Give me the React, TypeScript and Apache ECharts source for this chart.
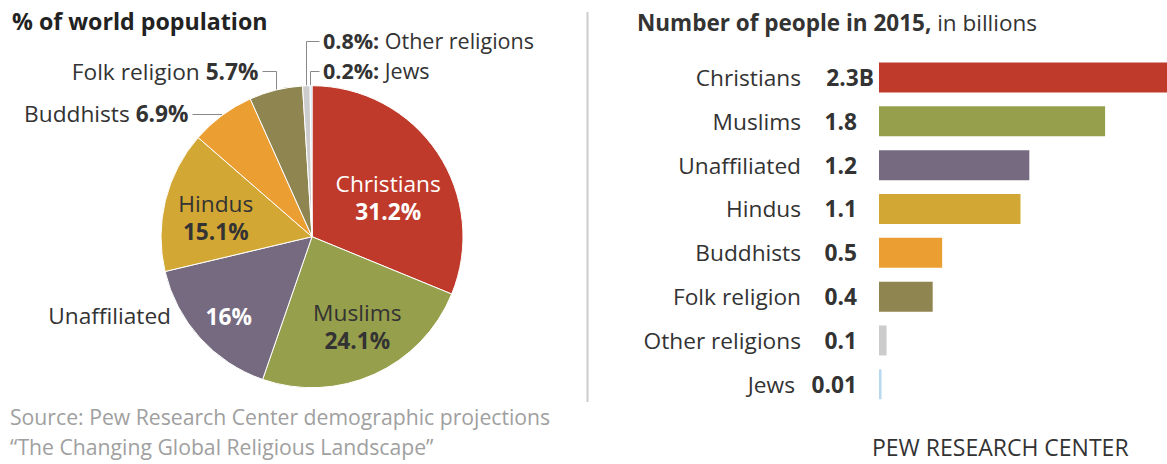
import React, { useEffect, useRef } from "react";
import * as echarts from "echarts";

// ---- data ----
const RELIGIONS = ["Christians", "Muslims", "Unaffiliated", "Hindus", "Buddhists", "Folk religion", "Other religions", "Jews"];
const SHARE = [31.2, 24.1, 16, 15.1, 6.9, 5.7, 0.8, 0.2];
const SHARE_LABELS = ["31.2%", "24.1%", "16%", "15.1%", "6.9%", "5.7%", "0.8%", "0.2%"];
const PEOPLE = [2.28, 1.79, 1.19, 1.12, 0.5, 0.425, 0.06, 0.02];
const PEOPLE_LABELS = ["2.3B", "1.8", "1.2", "1.1", "0.5", "0.4", "0.1", "0.01"];
const LEFT_TITLE = "% of world population";
const RIGHT_TITLE_BOLD = "Number of people in 2015,";
const RIGHT_TITLE_REG = " in billions";
const SOURCE_LINES = ["Source: Pew Research Center demographic projections", "\u201cThe Changing Global Religious Landscape\u201d"];
const CREDIT = "PEW RESEARCH CENTER";

// ---- styles ----
const COLORS = ["#bf3a2b", "#969f4b", "#756a7f", "#d3a733", "#eb9f32", "#8e8551", "#cccccc", "#b8d8f0"];
const FONT = "'Open Sans', sans-serif";
const FS = 22.7;
const FS_SMALL = 21.5;
const TXT = "#333333";
const LINE = "#888888";
const INSIDE_WHITE = [true, false, true, false];
const LABEL_SHIFT: number[][] = [[11, 5], [13, 18], [-25, 27], [-20, 0]];

function buildOption() {
  const pieData = SHARE.map((v, i) => ({
    value: v,
    name: RELIGIONS[i],
    itemStyle: { color: COLORS[i] },
    label: { show: i < 4 },
  }));

  const barData = PEOPLE.map((v, i) => ({ value: v, itemStyle: { color: COLORS[i] } }));

  const pieRich = {
    n: { fontFamily: FONT, fontSize: FS, color: TXT, lineHeight: 28 },
    p: { fontFamily: FONT, fontSize: FS, fontWeight: "bold", color: TXT, lineHeight: 28 },
    nw: { fontFamily: FONT, fontSize: FS, color: "#ffffff", lineHeight: 28 },
    pw: { fontFamily: FONT, fontSize: FS, fontWeight: "bold", color: "#ffffff", lineHeight: 28 },
  };

  const gRich = {
    n: { fontFamily: FONT, fontSize: FS, color: TXT, lineHeight: 24 },
    p: { fontFamily: FONT, fontSize: FS, fontWeight: "bold", color: TXT, lineHeight: 24 },
  };
  const gRichSmall = {
    n: { fontFamily: FONT, fontSize: FS_SMALL, color: TXT, lineHeight: 24 },
    p: { fontFamily: FONT, fontSize: FS_SMALL, fontWeight: "bold", color: TXT, lineHeight: 24 },
  };

  const axisRich = {
    n: { fontFamily: FONT, fontSize: FS, color: TXT },
    v: { fontFamily: FONT, fontSize: FS, fontWeight: "bold", color: TXT, width: 56, padding: [0, 17, 0, 0] },
    c: { fontFamily: FONT, fontSize: FS, fontWeight: "bold", color: TXT, width: 73 },
    j: { fontFamily: FONT, fontSize: FS, fontWeight: "bold", color: TXT, width: 62, padding: [0, 17, 0, 0] },
  };

  const textEl = (x: number, y: number, text: string, align: string, extra: any = {}) => ({
    type: "text",
    x,
    y,
    style: {
      text,
      textAlign: align,
      align,
      textVerticalAlign: "middle",
      verticalAlign: "middle",
      fontFamily: FONT,
      fontSize: FS,
      fill: TXT,
      rich: gRich,
      ...extra,
    },
  });

  const lineEl = (pts: number[][]) => ({
    type: "polyline",
    shape: { points: pts },
    style: { stroke: LINE, lineWidth: 1, fill: null },
  });

  return {
    animation: false,
    backgroundColor: "#ffffff",
    textStyle: { fontFamily: FONT },
    grid: { left: 879, right: 0, top: 55.6, height: 350.6 },
    xAxis: { type: "value", min: 0, max: PEOPLE[0], show: false },
    yAxis: {
      type: "category",
      inverse: true,
      data: RELIGIONS,
      axisLine: { show: false },
      axisTick: { show: false },
      splitLine: { show: false },
      axisLabel: {
        margin: 5,
        rich: axisRich,
        formatter: (value: string, index: number) => {
          const st = index === 0 ? "c" : index === RELIGIONS.length - 1 ? "j" : "v";
          return `{n|${value}}{${st}|${PEOPLE_LABELS[index]}}`;
        },
      },
    },
    series: [
      {
        type: "pie",
        center: [312, 236.7],
        radius: 151,
        startAngle: 90,
        clockwise: true,
        data: pieData,
        itemStyle: { borderColor: "#ffffff", borderWidth: 1 },
        emphasis: { disabled: true },
        labelLine: { show: false },
        label: {
          position: "inside",
          rich: pieRich,
          formatter: (p: any) => {
            const i = p.dataIndex;
            const w = INSIDE_WHITE[i];
            if (i === 2) return `{${w ? "pw" : "p"}|${SHARE_LABELS[i]}}`;
            return `{${w ? "nw" : "n"}|${p.name}}\n{${w ? "pw" : "p"}|${SHARE_LABELS[i]}}`;
          },
        },
        labelLayout: (params: any) => {
          const o = LABEL_SHIFT[params.dataIndex];
          return o ? { dx: o[0], dy: o[1] } : {};
        },
      },
      {
        type: "bar",
        data: barData,
        barWidth: 30,
        emphasis: { disabled: true },
      },
    ],
    graphic: [
      textEl(12, 21, LEFT_TITLE, "left", { fontWeight: "bold", fill: "#222222", fontSize: 23.2 }),
      textEl(637, 22, `{tb|${RIGHT_TITLE_BOLD}}{tr|${RIGHT_TITLE_REG}}`, "left", {
        rich: {
          tb: { fontFamily: FONT, fontSize: 22.5, fontWeight: "bold", color: "#222222" },
          tr: { fontFamily: FONT, fontSize: 22.5, color: "#222222" },
        },
      }),
      // outside pie labels
      textEl(258.5, 71, `{n|${RELIGIONS[5]} }{p|${SHARE_LABELS[5]}}`, "right"),
      lineEl([[262.5, 71.5], [276.5, 71.5], [276.5, 90]]),
      textEl(188.5, 113.5, `{n|${RELIGIONS[4]} }{p|${SHARE_LABELS[4]}}`, "right"),
      lineEl([[192.5, 114.5], [222, 114.5]]),
      textEl(323, 40.5, `{p|${SHARE_LABELS[6]}:}{n| ${RELIGIONS[6]}}`, "left", { fontSize: FS_SMALL, rich: gRichSmall }),
      lineEl([[319.5, 41.5], [306.5, 41.5], [306.5, 87]]),
      textEl(323, 70, `{p|${SHARE_LABELS[7]}:}{n| ${RELIGIONS[7]}}`, "left", { fontSize: FS_SMALL, rich: gRichSmall }),
      lineEl([[319.5, 71.5], [310.5, 71.5], [310.5, 87]]),
      textEl(171, 315, RELIGIONS[2], "right"),
      // separator
      { type: "line", shape: { x1: 587.5, y1: 12, x2: 587.5, y2: 402 }, style: { stroke: "#cccccc", lineWidth: 2 } },
      // source and credit
      textEl(10, 416, SOURCE_LINES[0], "left", { fill: "#a0a0a0", fontSize: 21.2 }),
      textEl(10, 446, SOURCE_LINES[1], "left", { fill: "#a0a0a0", fontSize: 21.2 }),
      textEl(872, 447, CREDIT, "left", { fill: "#333333", fontSize: 23 }),
    ],
  };
}

export default function App() {
  const ref = useRef<HTMLDivElement>(null);
  useEffect(() => {
    if (!ref.current) return;
    const chart = echarts.init(ref.current, undefined, { renderer: "svg" });
    chart.setOption(buildOption() as any);
    return () => chart.dispose();
  }, []);
  return (
    <div
      ref={ref}
      style={{ position: "absolute", left: 0, top: 0, width: 1167, height: 464, background: "#ffffff" }}
    />
  );
}
